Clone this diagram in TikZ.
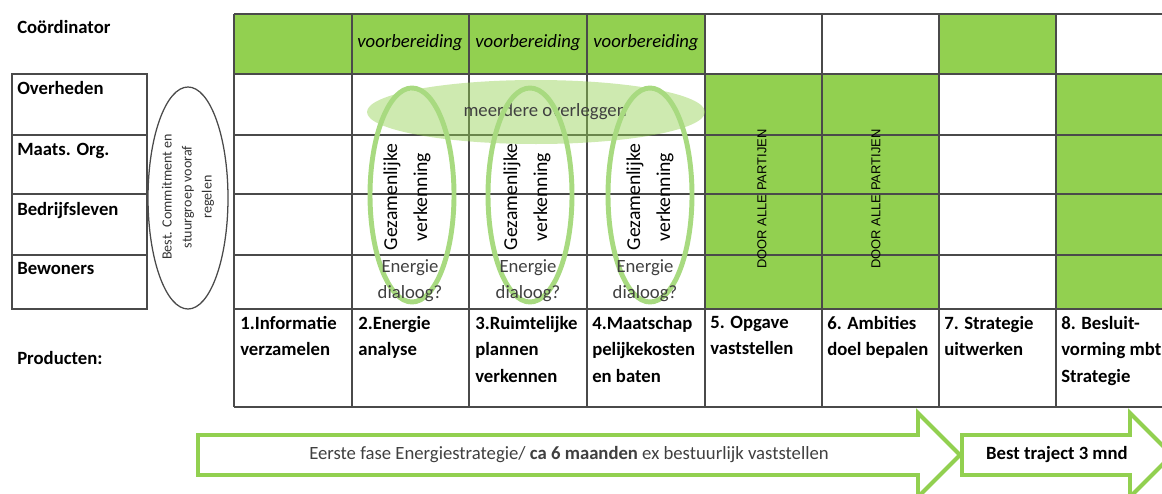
\documentclass[tikz,border=0pt]{standalone}
\usepackage{fontspec}
\setmainfont{Carlito}
\newfontfamily\arialfont{Liberation Sans}
\usetikzlibrary{positioning}

\begin{document}
\begin{tikzpicture}[x=0.025cm,y=-0.025cm]
      \definecolor{G}{HTML}{92D050}
      \definecolor{bG}{HTML}{A8DA80}
      \definecolor{gridc}{HTML}{4A4A4A}
      \definecolor{txt}{HTML}{404040}
      \tikzset{
        gridline/.style={gridc, line width=1.1pt},
        lbl/.style={font=\fontsize{13.3}{18.8}\selectfont\bfseries, anchor=base west, inner sep=0pt},
        prod/.style={font=\fontsize{13.3}{18.8}\selectfont\bfseries, anchor=north west, align=left, inner sep=0pt},
        prep/.style={font=\fontsize{13.3}{15}\selectfont\itshape, inner sep=0pt},
        verk/.style={font=\fontsize{14}{21.3}\selectfont, rotate=90, align=center, inner sep=0pt},
        dial/.style={font=\fontsize{13.3}{18.5}\selectfont, txt, align=center, inner sep=0pt},
        allen/.style={font=\arialfont\fontsize{9.2}{10}\selectfont, rotate=90, inner sep=0pt},
        phase/.style={G, line width=2.8pt, fill=white, line join=miter}
      }
      \useasboundingbox (0,0) rectangle (1162,493);
      \clip (0,0) rectangle (1162,493);
      % groene vakken
      \fill[G] (234,14) rectangle (705,74);
      \fill[G] (939,14) rectangle (1056,74);
      \fill[G] (705,74) rectangle (939,309);
      \fill[G] (1056,74) rectangle (1174,309);
      % raster
      \foreach \y in {14,74,135,194,255,309,407}
        \draw[gridline] (234,\y) -- (1174,\y);
      \foreach \x in {234,352,469,587,705,822,939,1056}
        \draw[gridline] (\x,14) -- (\x,407);
      \draw[gridline] (12,74) rectangle (147,309);
      \foreach \y in {135,194,255}
        \draw[gridline] (12,\y) -- (147,\y);
      % actoren
      \node[lbl] (coord) at (17,33) {Coördinator};
      \node[lbl] (overh) at (17,94) {Overheden};
      \node[lbl] (maats) at (17,155) {Maats. Org.};
      \node[lbl] (bedr) at (17,215) {Bedrijfsleven};
      \node[lbl] (bew) at (17,274) {Bewoners};
      \node[lbl] (prods) at (17,364) {Producten:};
      % stuurgroep
      \draw[gridc, line width=0.9pt] (188,198) ellipse (40 and 111);
      \node[font=\fontsize{10}{14.2}\selectfont, black!80, rotate=90, align=center, inner sep=0pt]
        (stuur) at (188,197) {Best. Commitment en\\stuurgroep vooraf\\regelen};
      % overleg
      \fill[G, fill opacity=0.45] (536,112) ellipse (169 and 32);
      \node[font=\fontsize{13.3}{15}\selectfont, txt, inner sep=0pt] (overleg) at (545,112) {meerdere overleggen};
      \foreach \cx in {412,530,650}
        \draw[bG, line width=3.5pt] (\cx,195) ellipse (42 and 107);
      % voorbereiding
      \node[prep] (prepA) at (410,43) {voorbereiding};
      \node[prep] (prepB) at (528,43) {voorbereiding};
      \node[prep] (prepC) at (646,43) {voorbereiding};
      \node[verk] (verkA) at (407,197) {Gezamenlijke\\verkenning};
      \node[verk] (verkB) at (527,197) {Gezamenlijke\\verkenning};
      \node[verk] (verkC) at (650,197) {Gezamenlijke\\verkenning};
      \node[dial] (dialA) at (410,281) {Energie\\dialoog?};
      \node[dial] (dialB) at (528,281) {Energie\\dialoog?};
      \node[dial] (dialC) at (645,281) {Energie\\dialoog?};
      \node[allen] (allenA) at (762,199) {DOOR ALLE PARTIJEN};
      \node[allen] (allenB) at (876,199) {DOOR ALLE PARTIJEN};
      % producten
      \node[prod] (p1) at (240,316) {1.Informatie\\verzamelen};
      \node[prod] (p2) at (358,316) {2.Energie\\analyse};
      \node[prod] (p3) at (475,316) {3.Ruimtelijke\\plannen\\verkennen};
      \node[prod] (p4) at (592,316) {4.Maatschap\\pelijkekosten\\en baten};
      \node[prod] (p5) at (710,316) {5. Opgave\\vaststellen};
      \node[prod] (p6) at (827,316) {6. Ambities\\doel bepalen};
      \node[prod] (p7) at (944,316) {7. Strategie\\uitwerken};
      \node[prod] (p8) at (1061,316) {8. Besluit-\\vorming mbt\\Strategie};
      % fasen
      \draw[phase] (198,435) -- (918,435) -- (918,413) -- (960,455) -- (918,497) -- (918,475) -- (198,475) -- cycle;
      \draw[phase] (962,435) -- (1130,435) -- (1130,413) -- (1172,455) -- (1130,497) -- (1130,475) -- (962,475) -- cycle;
      \node[font=\fontsize{13.3}{15}\selectfont, txt, inner sep=0pt] (fase1) at (569,455)
        {Eerste fase Energiestrategie/ \textbf{ca 6 maanden} ex bestuurlijk vaststellen};
      \node[font=\fontsize{13.3}{15}\selectfont\bfseries, inner sep=0pt] (fase2) at (1057,455) {Best traject 3 mnd};
    \end{tikzpicture}
\end{document}
